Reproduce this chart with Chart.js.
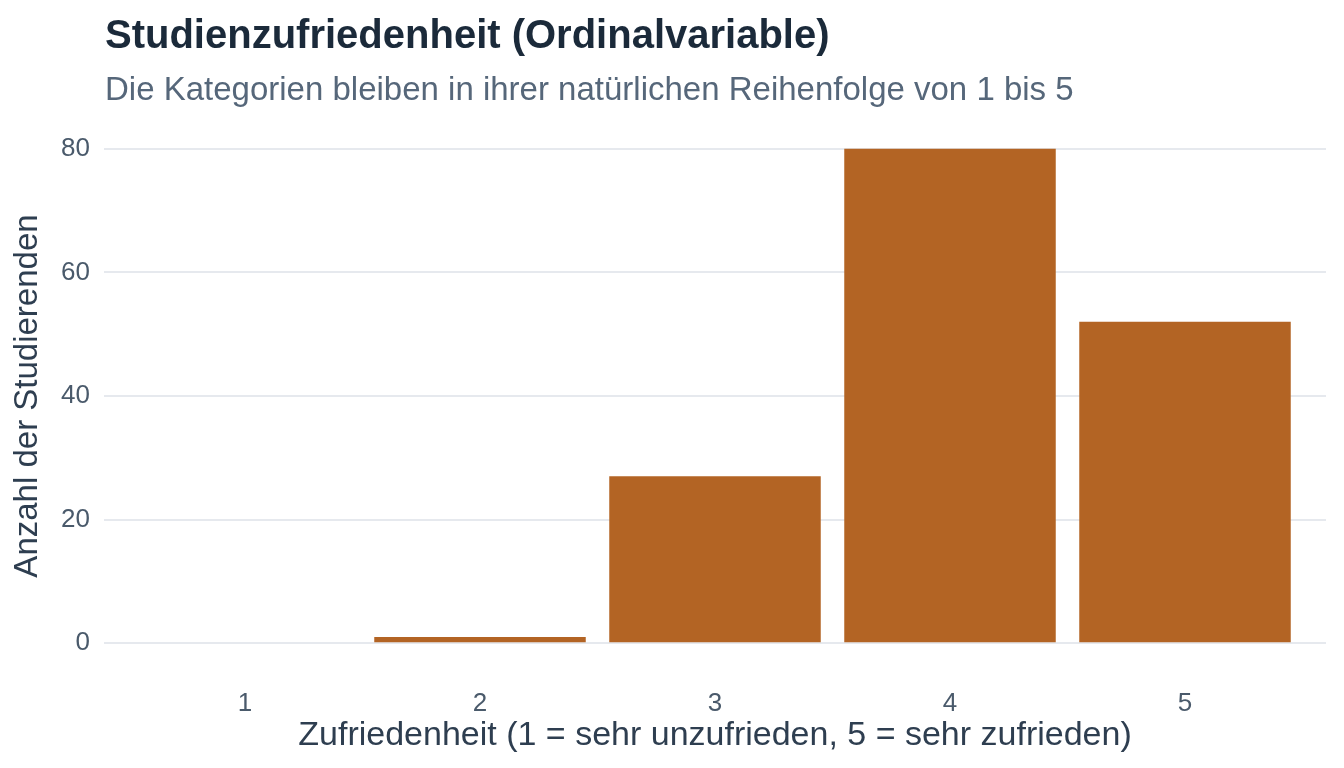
<!DOCTYPE html>
<html><head><meta charset="utf-8">
<script src="https://cdn.jsdelivr.net/npm/chart.js@4/dist/chart.umd.min.js"></script>
<style>html,body{margin:0;padding:0;background:#fff}#w{width:1344px;height:768px}</style>
</head><body><div id="w"><canvas id="c"></canvas></div>
<script>
const categories=[1,2,3,4,5];
const counts=[0,1,27,80,52];
const yTicks=[0,20,40,60,80];
const titleText="Studienzufriedenheit (Ordinalvariable)";
const subtitleText="Die Kategorien bleiben in ihrer natürlichen Reihenfolge von 1 bis 5";
const F="'Liberation Sans', Arial, sans-serif";
const titles={id:'titles',afterDraw(ch){const x=ch.ctx;x.save();x.textBaseline='alphabetic';x.textAlign='left';
x.fillStyle='#1b2a3a';x.font='bold 40px '+F;x.fillText(titleText,105,48);
x.fillStyle='#56677a';x.font='33px '+F;x.fillText(subtitleText,105,100);x.restore();}};
new Chart(document.getElementById('c'),{type:'bar',
data:{datasets:[{data:categories.map((c,i)=>({x:c,y:counts[i]})),backgroundColor:'#b36424',barPercentage:0.9,categoryPercentage:1}]},
options:{responsive:true,maintainAspectRatio:false,animation:false,
layout:{padding:{left:4,right:18,top:124,bottom:8}},
plugins:{legend:{display:false},tooltip:{enabled:false}},
scales:{
x:{type:'linear',offset:false,min:0.4,max:5.6,afterBuildTicks(s){s.ticks=categories.map(v=>({value:v}));},
afterFit(s){s.height=92;},
grid:{display:false},border:{display:false},
ticks:{color:'#4a5a6b',font:{family:F,size:26},padding:12},
title:{display:true,text:'Zufriedenheit (1 = sehr unzufrieden, 5 = sehr zufrieden)',color:'#2e3e50',font:{family:F,size:34},padding:{top:2}}},
y:{min:-4,max:84,afterBuildTicks(s){s.ticks=yTicks.map(v=>({value:v}));},
afterFit(s){s.width=100;},
grid:{color:'#e6e9ee',lineWidth:2,drawTicks:false},border:{display:false},
ticks:{color:'#4a5a6b',font:{family:F,size:26},padding:14},
title:{display:true,text:'Anzahl der Studierenden',color:'#2e3e50',font:{family:F,size:33},padding:{bottom:4}}}}},
plugins:[titles]});
</script></body></html>
